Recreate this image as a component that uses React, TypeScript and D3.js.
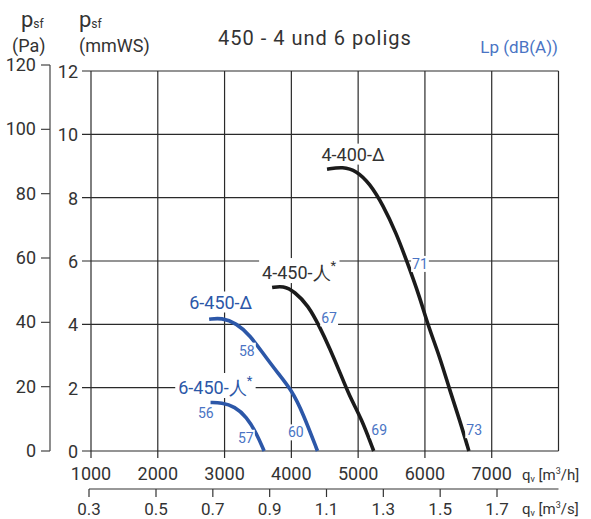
import React, { useLayoutEffect, useRef, useState } from 'react';
import * as d3 from 'd3';

// fan curves, flow in m3/h, static pressure in mmWS
const fan4400 = [
  [4534, 8.9], [4774, 8.98], [4974, 8.85], [5173, 8.45], [5372, 7.77], [5572, 6.87],
  [5722, 6.03], [5921, 4.87], [6045, 3.97], [6221, 2.98], [6370, 1.93], [6520, 0.98], [6658, 0],
];
const fan4450 = [
  [3712, 5.16], [3876, 5.22], [4051, 5.03], [4250, 4.6], [4425, 3.92], [4575, 3.24],
  [4724, 2.5], [4874, 1.71], [5049, 1.03], [5233, 0],
];
const fan6450d = [
  [2769, 4.16], [2955, 4.21], [3179, 4.03], [3378, 3.66], [3577, 3.08], [3801, 2.45],
  [4002, 1.93], [4175, 1.19], [4391, 0],
];
const fan6450y = [
  [2790, 1.53], [2955, 1.53], [3154, 1.4], [3329, 1.08], [3478, 0.56], [3592, 0],
];

const flowTicks = [1000, 2000, 3000, 4000, 5000, 6000, 7000, 8000];
const flowLabels = [1000, 2000, 3000, 4000, 5000, 6000, 7000];
const flowSecTicks = [0.3, 0.5, 0.7, 0.9, 1.1, 1.3, 1.5, 1.7];
const mmTicks = [0, 2, 4, 6, 8, 10, 12];
const paTicks = [0, 20, 40, 60, 80, 100, 120];

// curve name labels: [text, star, flow, pressure, colour key]
const curveLabels = [
  ['4-400-Δ', false, 4451, 9.17, 'black'],
  ['4-450-人', true, 3562, 5.43, 'black'],
  ['6-450-Δ', false, 2470, 4.5, 'blue'],
  ['6-450-人', true, 2306, 1.8, 'blue'],
];

// sound pressure levels Lp dB(A) and where they sit
const soundLevels = [71, 67, 58, 60, 56, 57, 69, 73];
const soundFlow = [5926, 4565, 3333, 4066, 2719, 3318, 5316, 6737];
const soundPress = [5.75, 4.03, 3.01, 0.43, 1.03, 0.26, 0.5, 0.5];

const BLACK = '#1b1b1b';
const BLUE = '#2c57a8';
const LIGHTBLUE = '#4a74c4';
const TEXT = '#333';
const FONT = 'Roboto, sans-serif';

const x = d3.scaleLinear().domain([1000, 8000]).range([91, 558.5]);
const y = d3.scaleLinear().domain([0, 12]).range([451, 71]);
const yPa = d3.scaleLinear().domain([0, 120]).range([451, 65]);
const xSec = d3.scaleLinear().domain([0.3, 0.5, 1.7]).range([89, 156, 497]);

const line = d3.line<number[]>()
  .x(d => x(d[0]))
  .y(d => y(d[1]))
  .curve(d3.curveBasis);

// text with a white box behind it, so gridlines are cut
const Boxed = ({ children, pad = 3, ...props }: any) => {
  const ref = useRef<SVGTextElement>(null);
  const [box, setBox] = useState<any>(null);
  useLayoutEffect(() => {
    if (ref.current) setBox(ref.current.getBBox());
  }, []);
  return (
    <g>
      {box && (
        <rect x={box.x - pad} y={box.y} width={box.width + pad * 2} height={box.height} fill="#fff" />
      )}
      <text ref={ref} {...props}>{children}</text>
    </g>
  );
};

export default function App() {
  const curves = [
    { pts: fan4400, color: BLACK },
    { pts: fan4450, color: BLACK },
    { pts: fan6450d, color: BLUE },
    { pts: fan6450y, color: BLUE },
  ];

  return (
    <svg width={591} height={519} style={{ position: 'absolute', left: 0, top: 0 }} fontFamily={FONT}>
      <rect width={591} height={519} fill="#fff" />

      {/* headers */}
      <text x={21} y={27} fontSize={22} fill={TEXT}>p<tspan fontSize={12} dy={1}>sf</tspan></text>
      <text x={12} y={52} fontSize={18} fill={TEXT}>(Pa)</text>
      <text x={79} y={27} fontSize={22} fill={TEXT}>p<tspan fontSize={12} dy={1}>sf</tspan></text>
      <text x={79} y={52} fontSize={18} fill={TEXT}>(mmWS)</text>
      <text x={315} y={45} fontSize={20} letterSpacing={1} fill={TEXT} textAnchor="middle">450 - 4 und 6 poligs</text>
      <text x={558} y={53} fontSize={17} fill={LIGHTBLUE} textAnchor="end">Lp (dB(A))</text>

      {/* grid */}
      <g stroke="#2a2a2a" strokeWidth={1.2}>
        {flowTicks.map(t => (
          <line key={'v' + t} x1={x(t)} x2={x(t)} y1={y(12)} y2={t === 8000 ? y(0) : y(0) + 7} />
        ))}
        {mmTicks.map(t => (
          <line key={'h' + t} x1={x(1000) - 9} x2={x(8000)} y1={y(t)} y2={y(t)} />
        ))}
      </g>

      {/* Pa axis */}
      <g stroke="#444" strokeWidth={1.2}>
        <line x1={50} x2={50} y1={yPa(120)} y2={yPa(0)} />
        {paTicks.map(t => <line key={t} x1={41} x2={50} y1={yPa(t)} y2={yPa(t)} />)}
      </g>
      {paTicks.map(t => (
        <text key={t} x={36} y={yPa(t) + 6} fontSize={18} fill={TEXT} textAnchor="end">{t}</text>
      ))}
      {mmTicks.map(t => (
        <text key={t} x={78} y={y(t) + 7} fontSize={18} fill={TEXT} textAnchor="end">{t}</text>
      ))}

      {/* flow m3/h */}
      {flowLabels.map(t => (
        <text key={t} x={x(t)} y={480} fontSize={18} fill={TEXT} textAnchor="middle">{t}</text>
      ))}
      <text x={522} y={480} fontSize={15} fill={TEXT}>q<tspan fontSize={9} dy={2}>v</tspan><tspan dy={-2}> [m</tspan><tspan fontSize={9} dy={-6}>3</tspan><tspan dy={6}>/h]</tspan></text>

      {/* flow m3/s */}
      <g stroke="#333" strokeWidth={1.2}>
        <line x1={89} x2={558.5} y1={489} y2={489} />
        {flowSecTicks.map(t => <line key={t} x1={xSec(t)} x2={xSec(t)} y1={489} y2={497} />)}
      </g>
      {flowSecTicks.map(t => (
        <text key={t} x={xSec(t)} y={515} fontSize={17} fill={TEXT} textAnchor="middle">{t.toFixed(1)}</text>
      ))}
      <text x={522} y={514} fontSize={15} fill={TEXT}>q<tspan fontSize={9} dy={2}>v</tspan><tspan dy={-2}> [m</tspan><tspan fontSize={9} dy={-6}>3</tspan><tspan dy={6}>/s]</tspan></text>

      {/* curves */}
      {curves.map((c, i) => (
        <path key={i} d={line(c.pts) || ''} fill="none" stroke={c.color} strokeWidth={3.6} strokeLinecap="butt" />
      ))}

      {/* curve names */}
      {curveLabels.map(([txt, star, q, p, col]: any) => (
        <Boxed key={txt + col} pad={star ? 3 : 0} x={x(q)} y={y(p)} fontSize={18}
          fill={col === 'blue' ? BLUE : TEXT}>
          {txt}{star && <tspan fontSize={13} dy={-9}>*</tspan>}
        </Boxed>
      ))}

      {/* sound levels */}
      {soundLevels.map((v, i) => (
        <Boxed key={v} pad={1} x={x(soundFlow[i])} y={y(soundPress[i])} fontSize={14}
          fill={LIGHTBLUE} textAnchor="middle">{v}</Boxed>
      ))}
    </svg>
  );
}
